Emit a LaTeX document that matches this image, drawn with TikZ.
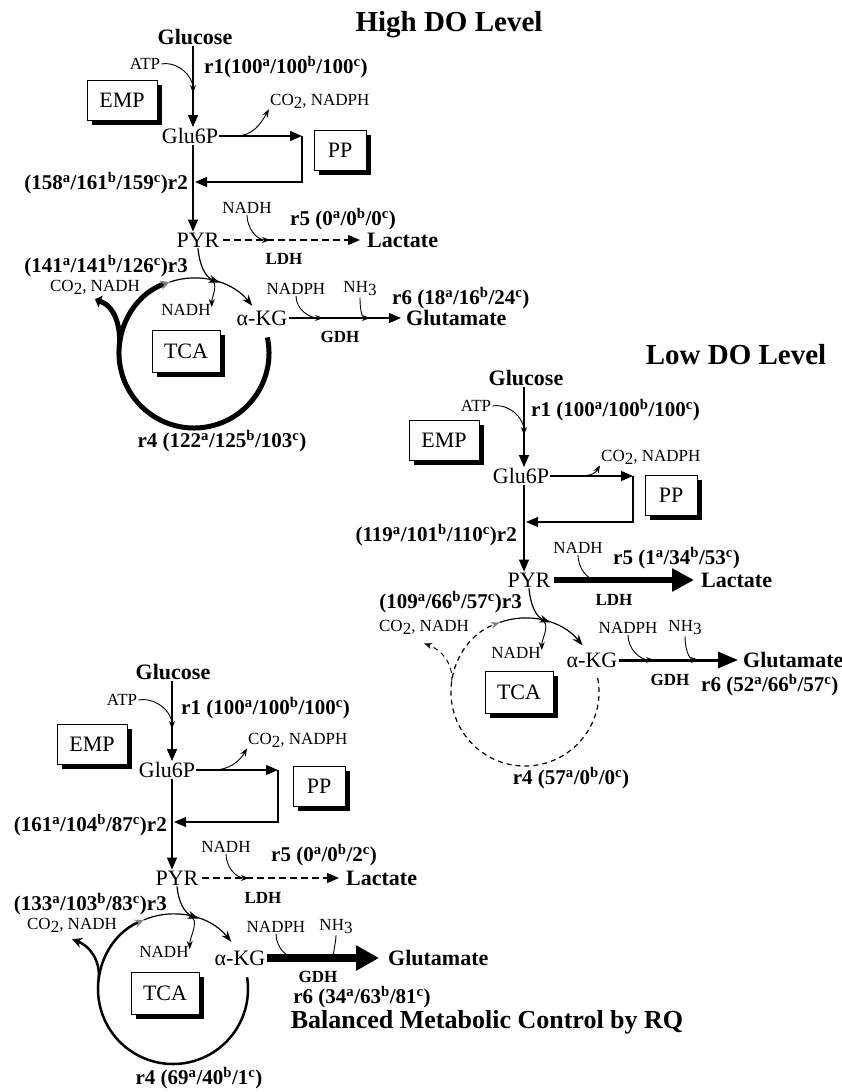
\documentclass[tikz,border=0pt]{standalone}
\usepackage{fontspec}
\setmainfont{Liberation Serif}
\usetikzlibrary{arrows.meta,shadows}

\newcommand{\fbig}{\fontsize{22}{24}\selectfont}
\newcommand{\fsmall}{\fontsize{17}{19}\selectfont}
\newcommand{\frate}{\fontsize{21}{23}\selectfont\bfseries}
\newcommand{\ftitle}{\fontsize{29}{32}\selectfont\bfseries}
\newcommand{\lowr}[1]{\raisebox{-3pt}{#1}}
\newcommand{\abc}[3]{#1\textsuperscript{a}/#2\textsuperscript{b}/#3\textsuperscript{c}}

\tikzset{
  met/.style={font=\fbig, inner sep=1pt},
  prod/.style={font=\fbig\bfseries, inner sep=1pt},
  cof/.style={font=\fsmall, inner sep=1pt},
  enz/.style={font=\fsmall\bfseries, inner sep=1pt},
  rate/.style={font=\frate, inner sep=1pt},
  pathbox/.style={draw, fill=white, line width=1pt, font=\fbig, minimum height=40pt,
    drop shadow={shadow xshift=5pt, shadow yshift=-5pt, fill=black, opacity=1}},
  flux/.style={line width=1.2pt, -{Triangle[length=12pt,width=10pt]}},
  side/.style={line width=0.9pt, -{Stealth[length=8pt,width=6pt]}},
  cyc/.style={line width=1.2pt, -{Stealth[length=11pt,width=8pt]}},
  dash7/.style={dash pattern=on 7pt off 4pt},
}

\begin{document}
\begin{tikzpicture}[x=1pt,y=1pt]
\useasboundingbox (0,0) rectangle (842,-1092);

\node[font=\ftitle] (thigh) at (449,-25) {High DO Level};
\node[font=\ftitle] (tlow) at (736,-355) {Low DO Level};
\node[font=\fontsize{26}{29}\selectfont\bfseries] (tbal) at (487,-1022) {Balanced Metabolic Control by RQ};

% high DO level
\begin{scope}[name prefix=h-]
  \path
  (193,0) coordinate(ax)
  (195,-37) node[prod](glc) {Glucose}
  (145,-64) node[cof](atp) {ATP}
  (193,-93) coordinate(atpin)
  (203,-67) node[rate,anchor=west](r1) {r1(\abc{100}{100}{100})}
  (122,-100) node[pathbox,minimum width=70pt](emp) {EMP}
  (190,-136) node[met](g6p) {Glu6P}
  (236,-136) coordinate(ppout)
  (302,-136) coordinate(ppin)
  (269,-101) node[cof,anchor=west](co2a) {CO\lowr{2}, NADPH}
  (340,-150) node[pathbox,minimum width=52pt](pp) {PP}
  (195,-182) coordinate(ppret)
  (189,-183) node[rate,anchor=east](r2) {(\abc{158}{161}{159})r2}
  (198,-240) node[met](pyr) {PYR}
  (247,-208) node[cof](nadh1) {NADH}
  (270,-240) coordinate(ldhin)
  (289,-219) node[rate,anchor=west](r5) {r5 (\abc{0}{0}{0})}
  (366,-240) node[prod,anchor=west](lac) {Lactate}
  (284,-259) node[enz](ldh) {LDH}
  (189,-266) node[rate,anchor=east](r3) {(\abc{141}{141}{126})r3}
  (95,-287) node[cof](co2b) {CO\lowr{2}, NADH}
  (186,-351) node[pathbox,minimum width=68pt,minimum height=42pt](tca) {TCA}
  (186,-310) node[cof](nadh2) {NADH}
  (262,-318) node[met](akg) {α-KG}
  (296,-289) node[cof](nadph) {NADPH}
  (360,-289) node[cof](nh3) {NH\lowr{3}}
  (323,-318) coordinate(gdhin1)
  (370,-318) coordinate(gdhin2)
  (340,-337) node[enz](gdh) {GDH}
  (405,-318) node[prod,anchor=west](glu) {Glutamate}
  (391,-298) node[rate,anchor=west](r6) {r6 (\abc{18}{16}{24})}
  (222,-441) node[rate](r4) {r4 (\abc{122}{125}{103})}
  (194,-353) coordinate(c)
  ++(70:75) coordinate(r3in)
  (c) ++(12:75) coordinate(cyc0)
  (c) ++(109:75) coordinate(cyc1)
  (c) ++(78:75) coordinate(nadhout)
  (c) ++(175:75) coordinate(co2out)
  ;

  \draw[flux] (glc.south -| ax) -- (g6p.north -| ax);
  \draw[side] (atp.east) to[out=10,in=90] (atpin);
  \draw[flux] (g6p.east) -- (ppin);
  \draw[side] (ppout) to[out=0,in=-120] (co2a.south west);
  \draw[flux] (ppin) |- (ppret);
  \draw[flux] (g6p.south -| ax) -- (pyr.north -| ax);
  \draw[flux,dash7,shorten >=6pt,shorten <=2pt] (pyr.east) -- (lac.west);
  \draw[side] (nadh1.south) to[out=-90,in=180] (ldhin);
  \draw[cyc] (pyr.south) to[out=-85,in=160] (r3in);
  \draw[line width=5pt,-{Stealth[length=9pt,width=9pt,gray]}] (cyc0) arc[start angle=12,end angle=-251,radius=75];
  \draw[cyc] (cyc1) arc[start angle=109,end angle=39,radius=75];
  \draw[side] (nadhout) to[out=-15,in=90] ([yshift=3pt]nadh2.east);
  \draw[line width=5pt,-{Triangle[length=6pt,width=12pt]}] (co2out) to[out=85,in=-20] ([yshift=-4pt]co2b.south);
  \draw[flux,shorten >=4pt] (akg.east) -- (glu.west);
  \draw[side] (nadph.south) to[out=-90,in=180] (gdhin1);
  \draw[side] (nh3.south) to[out=-90,in=180] (gdhin2);
\end{scope}

% low DO level
\begin{scope}[shift={(331,-340)},name prefix=l-]
  \path
  (193,0) coordinate(ax)
  (195,-38) node[prod](glc) {Glucose}
  (145,-66) node[cof](atp) {ATP}
  (193,-95) coordinate(atpin)
  (199,-70) node[rate,anchor=west](r1) {r1 (\abc{100}{100}{100})}
  (113,-100) node[pathbox,minimum width=70pt](emp) {EMP}
  (190,-136) node[met](g6p) {Glu6P}
  (236,-136) coordinate(ppout)
  (302,-136) coordinate(ppin)
  (269,-117) node[cof,anchor=west](co2a) {CO\lowr{2}, NADPH}
  (340,-155) node[pathbox,minimum width=52pt](pp) {PP}
  (195,-182) coordinate(ppret)
  (187,-195) node[rate,anchor=east](r2) {(\abc{119}{101}{110})r2}
  (198,-240) node[met](pyr) {PYR}
  (247,-208) node[cof](nadh1) {NADH}
  (270,-240) coordinate(ldhin)
  (281,-218) node[rate,anchor=west](r5) {r5 (\abc{1}{34}{53})}
  (369,-240) node[prod,anchor=west](lac) {Lactate}
  (283,-260) node[enz](ldh) {LDH}
  (192,-262) node[rate,anchor=east](r3) {(\abc{109}{66}{57})r3}
  (93,-287) node[cof](co2b) {CO\lowr{2}, NADH}
  (188,-352) node[pathbox,minimum width=68pt,minimum height=42pt](tca) {TCA}
  (185,-313) node[cof](nadh2) {NADH}
  (261,-320) node[met](akg) {α-KG}
  (297,-288) node[cof](nadph) {NADPH}
  (354,-288) node[cof](nh3) {NH\lowr{3}}
  (323,-320) coordinate(gdhin1)
  (368,-320) coordinate(gdhin2)
  (339,-340) node[enz](gdh) {GDH}
  (411,-320) node[prod,anchor=west](glu) {Glutamate}
  (369,-345) node[rate,anchor=west](r6) {r6 (\abc{52}{66}{57})}
  (240,-438) node[rate](r4) {r4 (\abc{57}{0}{0})}
  (194,-352) coordinate(c)
  ++(70:74) coordinate(r3in)
  (c) ++(11:74) coordinate(cyc0)
  (c) ++(110:74) coordinate(cyc1)
  (c) ++(78:74) coordinate(nadhout)
  (c) ++(172:74) coordinate(co2out)
  ;

  \draw[flux] (glc.south -| ax) -- (g6p.north -| ax);
  \draw[side] (atp.east) to[out=10,in=90] (atpin);
  \draw[flux] (g6p.east) -- (ppin);
  \draw[side] (ppout) to[out=0,in=-120] (co2a.south west);
  \draw[flux] (ppin) |- (ppret);
  \draw[flux] (g6p.south -| ax) -- (pyr.north -| ax);
  \draw[line width=6pt,-{Triangle[length=22pt,width=22pt]},shorten >=6pt,shorten <=2pt] (pyr.east) -- (lac.west);
  \draw[side] (nadh1.south) to[out=-90,in=180] (ldhin);
  \draw[cyc] (pyr.south) to[out=-85,in=160] (r3in);
  \draw[line width=1.2pt,dash pattern=on 5pt off 4pt,-{Stealth[length=9pt,width=7pt,gray]}] (cyc0) arc[start angle=11,end angle=-250,radius=74];
  \draw[cyc] (cyc1) arc[start angle=110,end angle=39,radius=74];
  \draw[side] (nadhout) to[out=-15,in=90] ([yshift=3pt]nadh2.east);
  \draw[side,dash pattern=on 5pt off 4pt] (co2out) to[out=85,in=-20] ([yshift=-8pt]co2b.south);
  \draw[line width=3pt,-{Triangle[length=20pt,width=16pt]},shorten >=4pt] (akg.east) -- (glu.west);
  \draw[side] (nadph.south) to[out=-90,in=180] (gdhin1);
  \draw[side] (nh3.south) to[out=-90,in=180] (gdhin2);
\end{scope}

% balanced metabolic control by RQ
\begin{scope}[shift={(-21,-636)},name prefix=b-]
  \path
  (193,0) coordinate(ax)
  (194,-36) node[prod](glc) {Glucose}
  (143,-64) node[cof](atp) {ATP}
  (193,-93) coordinate(atpin)
  (201,-72) node[rate,anchor=west](r1) {r1 (\abc{100}{100}{100})}
  (113,-108) node[pathbox,minimum width=70pt](emp) {EMP}
  (188,-134) node[met](g6p) {Glu6P}
  (234,-134) coordinate(ppout)
  (299,-134) coordinate(ppin)
  (268,-104) node[cof,anchor=west](co2a) {CO\lowr{2}, NADPH}
  (340,-150) node[pathbox,minimum width=52pt](pp) {PP}
  (195,-186) coordinate(ppret)
  (189,-189) node[rate,anchor=east](r2) {(\abc{161}{104}{87})r2}
  (198,-242) node[met](pyr) {PYR}
  (247,-211) node[cof](nadh1) {NADH}
  (270,-242) coordinate(ldhin)
  (291,-219) node[rate,anchor=west](r5) {r5 (\abc{0}{0}{2})}
  (366,-242) node[prod,anchor=west](lac) {Lactate}
  (284,-262) node[enz](ldh) {LDH}
  (189,-268) node[rate,anchor=east](r3) {(\abc{133}{103}{83})r3}
  (93,-289) node[cof](co2b) {CO\lowr{2}, NADH}
  (186,-357) node[pathbox,minimum width=68pt,minimum height=42pt](tca) {TCA}
  (185,-316) node[cof](nadh2) {NADH}
  (261,-322) node[met](akg) {α-KG}
  (297,-291) node[cof](nadph) {NADPH}
  (357,-291) node[cof](nh3) {NH\lowr{3}}
  (321,-322) coordinate(gdhin1)
  (361,-322) coordinate(gdhin2)
  (339,-341) node[enz](gdh) {GDH}
  (408,-322) node[prod,anchor=west](glu) {Glutamate}
  (383,-361) node[rate](r6) {r6 (\abc{34}{63}{81})}
  (220,-442) node[rate](r4) {r4 (\abc{69}{40}{1})}
  (194,-353) coordinate(c)
  ++(70:75) coordinate(r3in)
  (c) ++(9:75) coordinate(cyc0)
  (c) ++(113:75) coordinate(cyc1)
  (c) ++(78:75) coordinate(nadhout)
  (c) ++(172:75) coordinate(co2out)
  ;

  \draw[flux] (glc.south -| ax) -- (g6p.north -| ax);
  \draw[side] (atp.east) to[out=10,in=90] (atpin);
  \draw[flux] (g6p.east) -- (ppin);
  \draw[side] (ppout) to[out=0,in=-120] (co2a.south west);
  \draw[flux] (ppin) |- (ppret);
  \draw[flux] (g6p.south -| ax) -- (pyr.north -| ax);
  \draw[flux,dash7,shorten >=6pt,shorten <=2pt] (pyr.east) -- (lac.west);
  \draw[side] (nadh1.south) to[out=-90,in=180] (ldhin);
  \draw[cyc] (pyr.south) to[out=-85,in=160] (r3in);
  \draw[line width=2.5pt,-{Stealth[length=9pt,width=8pt,gray]}] (cyc0) arc[start angle=9,end angle=-247,radius=75];
  \draw[cyc] (cyc1) arc[start angle=113,end angle=39,radius=75];
  \draw[side] (nadhout) to[out=-15,in=90] ([yshift=3pt]nadh2.east);
  \draw[line width=2.5pt,-{Stealth[length=10pt,width=10pt]}] (co2out) to[out=85,in=-20] ([yshift=-6pt]co2b.south);
  \draw[line width=8pt,-{Triangle[length=23pt,width=24pt]},shorten >=8pt] (akg.east) -- (glu.west);
  \draw[side] (nadph.south) to[out=-90,in=180] (gdhin1);
  \draw[side] (nh3.south) to[out=-90,in=180] (gdhin2);
\end{scope}
\end{tikzpicture}
\end{document}
